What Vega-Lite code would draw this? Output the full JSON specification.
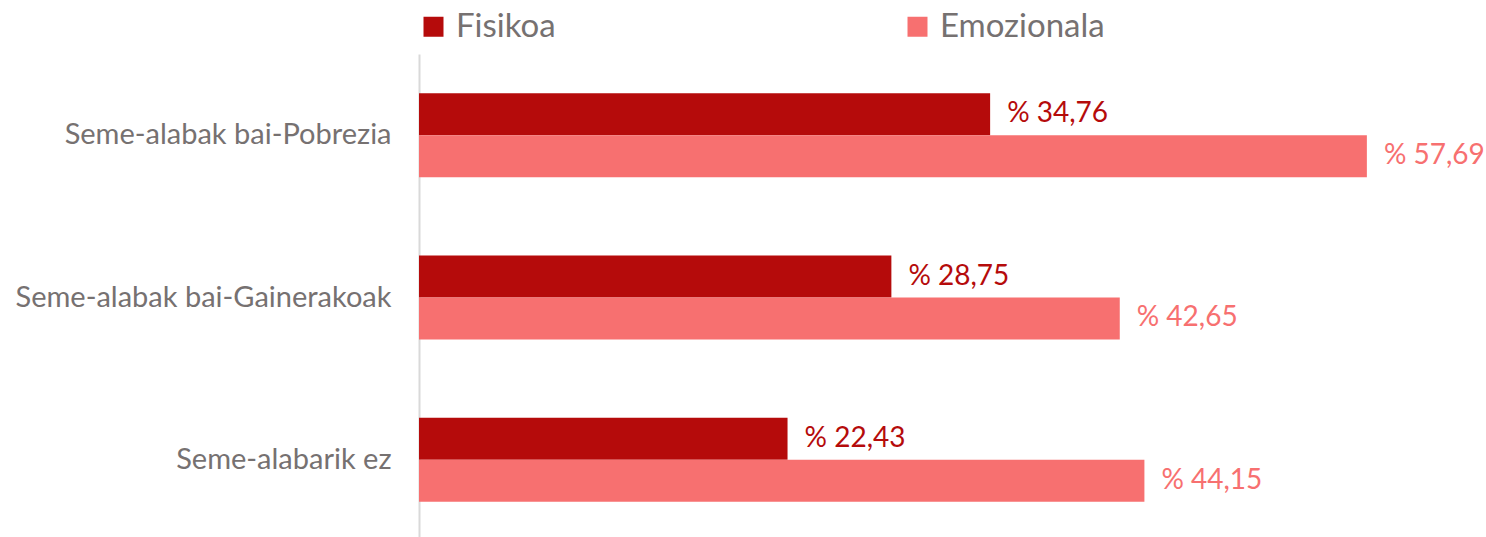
{
  "$schema": "https://vega.github.io/schema/vega-lite/v6.json",
  "autosize": "none",
  "width": 1067,
  "height": 487,
  "padding": {"left": 419, "top": 54, "right": 0, "bottom": 0},
  "background": "white",
  "config": {"view": {"stroke": null}, "font": "Lato"},
  "data": {"values": [
    {"cat": "Seme-alabak bai-Pobrezia", "serie": "Fisikoa", "value": 34.76, "label": "% 34,76"},
    {"cat": "Seme-alabak bai-Pobrezia", "serie": "Emozionala", "value": 57.69, "label": "% 57,69"},
    {"cat": "Seme-alabak bai-Gainerakoak", "serie": "Fisikoa", "value": 28.75, "label": "% 28,75"},
    {"cat": "Seme-alabak bai-Gainerakoak", "serie": "Emozionala", "value": 42.65, "label": "% 42,65"},
    {"cat": "Seme-alabarik ez", "serie": "Fisikoa", "value": 22.43, "label": "% 22,43"},
    {"cat": "Seme-alabarik ez", "serie": "Emozionala", "value": 44.15, "label": "% 44,15"}
  ]},
  "encoding": {
    "y": {"field": "cat", "type": "nominal", "sort": null,
      "scale": {"paddingInner": 0.483, "paddingOuter": 0.2415},
      "axis": {"title": null, "ticks": false, "domainColor": "#D9D9D9", "domainWidth": 2,
        "labelFontSize": 29, "labelColor": "#767171", "labelPadding": 28, "labelLimit": 420}},
    "yOffset": {"field": "serie", "type": "nominal", "sort": ["Fisikoa", "Emozionala"],
      "scale": {"paddingInner": 0, "paddingOuter": 0}},
    "x": {"field": "value", "type": "quantitative", "scale": {"domain": [0, 64.94], "nice": false}, "axis": null},
    "color": {"field": "serie", "type": "nominal",
      "scale": {"domain": ["Fisikoa", "Emozionala"], "range": ["#B50B0B", "#F77070"]},
      "legend": {"title": null, "orient": "none", "legendX": -2, "legendY": -44, "direction": "horizontal",
        "columns": 2, "columnPadding": 345, "symbolType": "square", "symbolSize": 400,
        "symbolStrokeWidth": 0, "labelFontSize": 33, "labelColor": "#767171", "labelOffset": 6, "labelLimit": 400}}
  },
  "layer": [
    {"mark": {"type": "bar", "stroke": null}},
    {"mark": {"type": "text", "align": "left", "baseline": "middle", "dx": 17, "fontSize": 28},
     "encoding": {"text": {"field": "label"}}}
  ]
}
